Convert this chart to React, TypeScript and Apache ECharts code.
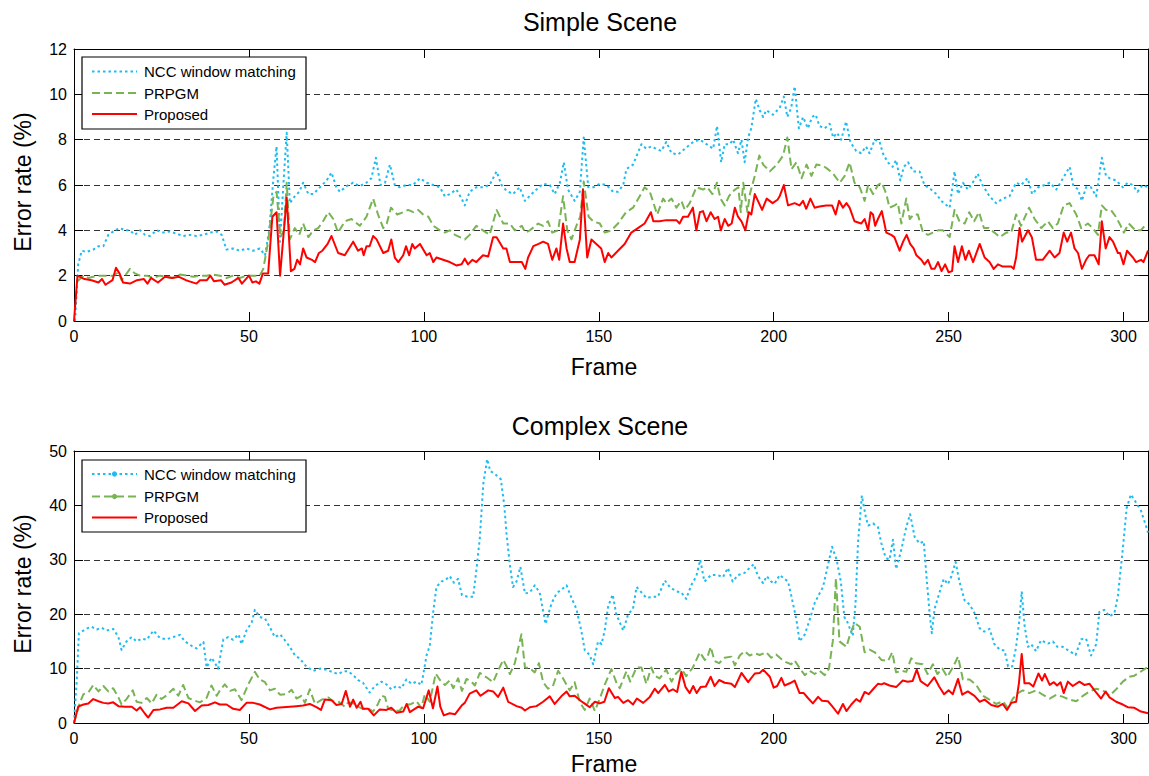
import React, { useEffect, useRef } from 'react';
import * as echarts from 'echarts';

const FONT = "'Liberation Sans', Arial, Helvetica, sans-serif";

const seriesNames = ['NCC window matching', 'PRPGM', 'Proposed'];
const simpleTitle = 'Simple Scene';
const complexTitle = 'Complex Scene';
const xTicksInterval = 50;
const simpleYMax = 12;
const simpleYInterval = 2;
const complexYMax = 50;
const complexYInterval = 10;
const frameMax = 307;

// Simple scene: [frame, error rate %]
const simpleNcc: number[][] = [[0.3,0],[1.2,2.5],[2.2,3.1],[3.6,3.05],[5.5,3.15],[7,3.3],[8.4,3.3],[9.8,3.8],[11.7,4.0],[13.1,4.1],[14.6,4.0],[16,4.0],[17.4,3.8],[18.9,4.0],[20.3,3.8],[21.7,3.75],[23.6,4.0],[25.5,3.9],[27.4,3.95],[29.3,3.85],[31.2,3.75],[33.1,3.8],[35,3.75],[37,3.8],[38.9,3.9],[40.8,3.95],[42.2,3.8],[43.6,3.15],[45.5,3.2],[47.4,3.1],[49.3,3.2],[51.2,3.1],[53.1,3.2],[54.6,2.9],[55.8,4.0],[57,6.3],[57.9,7.7],[58.9,3.5],[59.8,5.9],[60.8,8.3],[61.7,5.2],[63.1,5.5],[64.4,5.7],[65.5,6.1],[67,5.6],[68.4,5.6],[70.3,5.9],[72.2,6.2],[73.6,6.55],[75,5.9],[76,5.7],[77.9,5.95],[79.8,6.1],[81.7,5.95],[83.6,6.1],[85,6.3],[86.3,7.2],[87.6,6.0],[88.9,6.1],[90.3,6.9],[91.7,6.0],[93.1,5.9],[95,6.0],[96.9,6.0],[98.9,6.3],[100.8,6.1],[102.7,6.0],[104.6,5.9],[106,5.5],[107.4,5.6],[109.3,5.8],[110.8,5.4],[111.7,5.1],[113.1,5.7],[115,5.9],[116.9,5.9],[118.8,6.0],[120.8,6.6],[122.2,6.0],[123.6,5.75],[125.5,5.6],[127.4,5.9],[128.9,5.3],[130.8,5.6],[132.2,5.8],[134.1,6.05],[136,6.0],[137.4,5.6],[138.9,6.1],[140,7.0],[141.2,5.8],[143.1,5.3],[144.6,5.7],[145.7,8.1],[147,5.9],[148.4,5.9],[150.3,6.05],[152.2,6.0],[154.1,5.7],[155.5,5.7],[157,6.0],[157.9,6.7],[159.8,6.9],[162.2,7.8],[163.6,7.6],[165,7.7],[166.4,7.6],[167.9,7.5],[169.3,7.9],[170.8,7.4],[172.7,7.35],[174.6,7.6],[177,7.9],[178.9,8.0],[180.8,7.8],[182.7,7.6],[183.8,8.6],[185,7.0],[186,7.8],[187.4,7.8],[188.4,8.0],[189.8,7.4],[190.8,8.0],[191.7,7.0],[192.7,8.1],[193.6,8.5],[194.9,9.8],[196,9.3],[197,9.0],[197.9,9.3],[199.8,9.1],[201.7,9.4],[202.9,9.9],[203.9,9.0],[205,9.4],[206,10.35],[207.2,8.5],[208.4,9.0],[209.8,8.5],[211,9.0],[212,9.1],[213.1,8.6],[214.6,8.5],[216,8.7],[217,8.1],[218.1,8.3],[219.3,8.0],[220.7,8.8],[221.9,7.9],[223.6,7.5],[225,7.4],[226.4,7.7],[227.4,7.4],[228.9,8.0],[230.3,7.9],[231.2,7.4],[232.6,7.0],[234,6.8],[235,7.1],[236.2,6.2],[237.2,6.8],[238.4,7.0],[239.9,6.6],[241.7,6.6],[243.1,6.0],[245,5.8],[246.5,5.6],[247.9,5.3],[250.3,5.0],[251.7,6.6],[252.7,5.6],[254.1,6.1],[255.5,5.8],[256.9,6.1],[258.3,6.5],[259.7,6.0],[261.7,5.5],[263.6,5.2],[265.5,5.4],[267.4,5.5],[269.3,6.1],[270.7,6.0],[272.6,6.3],[273.9,5.6],[275.6,5.9],[277.5,6.0],[278.9,6.1],[280.8,5.8],[282.7,6.3],[284.6,6.8],[285.6,6.0],[287,5.8],[288.1,5.3],[289.3,5.9],[290.7,5.9],[292.2,5.5],[293.8,7.2],[295,6.4],[296,6.3],[297.9,6.2],[299.8,5.9],[301.2,6.1],[302.6,6.0],[304,5.7],[305.4,6.0],[307,5.9]];

const simplePrpgm: number[][] = [[1,1.75],[2.7,2.0],[4.1,1.9],[5.5,1.95],[7.4,2.0],[9.3,2.0],[11.2,2.0],[12.7,2.15],[13.6,1.8],[14.6,2.0],[16,2.3],[17.4,2.1],[18.9,2.0],[20.8,2.0],[22.7,1.9],[24.6,2.0],[26.5,1.95],[28.4,1.9],[30.3,2.05],[32.2,2.0],[34.1,1.95],[36,2.0],[37.9,2.0],[39.8,2.05],[41.7,2.0],[43.6,1.9],[45.5,2.0],[47.4,1.9],[49.3,2.0],[51.2,2.0],[53.1,2.0],[54.1,2.3],[55.5,3.5],[57,5.5],[57.9,5.7],[59,3.7],[60,4.0],[60.8,6.1],[61.7,3.6],[63.1,4.1],[64.4,3.8],[65.5,4.3],[67,3.7],[68.4,4.0],[69.8,4.1],[71.2,4.4],[72.7,4.8],[74.1,4.5],[75.5,3.9],[77.4,4.4],[79.3,4.5],[81.7,4.2],[83.6,4.6],[85.5,5.4],[86.9,4.7],[88.4,4.1],[89.4,4.3],[90.6,5.0],[92.4,4.7],[94.1,4.8],[95.5,4.9],[97,4.8],[98.4,4.9],[99.8,4.7],[101.3,4.6],[102.7,4.2],[104.6,4.0],[106,3.9],[107.4,4.0],[108.9,3.8],[110.3,3.7],[111.7,3.6],[113.1,3.8],[115,4.2],[116.9,4.0],[118.8,3.8],[120.8,4.9],[122.7,4.3],[124.6,4.3],[126,4.0],[128,4.2],[129,3.9],[130.3,4.0],[132.7,4.3],[134.1,4.2],[135.5,4.4],[136.7,3.9],[138.4,4.0],[139.8,5.5],[141,4.0],[142.2,3.6],[143.6,4.2],[144.7,4.6],[145.7,6.15],[147.1,4.6],[148.4,4.4],[150.3,4.3],[151.7,3.9],[153.6,4.0],[155.5,4.3],[157.8,4.8],[159.8,5.0],[161.7,5.5],[163.1,5.9],[164.6,5.7],[166.7,4.7],[168.4,5.4],[169.3,5.2],[170.8,5.4],[172.2,5.0],[173.6,5.3],[174.6,4.9],[176,5.2],[177.9,5.9],[179.8,5.8],[181,5.9],[182.5,5.6],[183.8,6.1],[184.8,5.4],[186,5.1],[187.2,5.5],[188.1,5.7],[189.9,5.9],[190.6,4.8],[191.3,6.1],[192.5,4.8],[193.2,5.6],[194.6,6.4],[195.9,7.3],[197,6.9],[198.9,6.6],[200.9,6.9],[202.7,7.3],[203.9,8.1],[205.1,6.7],[206.5,7.0],[208,6.3],[209.4,6.9],[210.8,6.4],[212.2,6.9],[214.1,6.85],[215.5,6.7],[217,6.5],[218.9,6.1],[220.3,6.4],[221.7,7.0],[223.1,6.1],[224.6,5.9],[226,5.3],[227,6.0],[228.4,5.6],[229.8,6.0],[230.9,6.1],[232.2,5.6],[233.1,5.0],[234.6,5.1],[235.5,5.2],[236.5,4.3],[237.9,5.4],[238.9,4.5],[240,4.7],[241.2,4.7],[242.7,3.9],[244.1,3.8],[245.5,3.9],[247,4.0],[248.4,4.0],[250.3,3.7],[251.7,4.9],[253.1,4.4],[254.6,4.3],[255.9,4.8],[257.3,4.4],[258.7,4.8],[260.1,4.1],[261.5,4.1],[263.1,3.9],[264.6,3.7],[266.5,3.9],[267.9,3.9],[269.3,4.7],[270.7,4.2],[273,5.0],[274.6,4.5],[276.5,4.1],[278.4,4.4],[279.8,4.1],[281.2,4.3],[282.9,5.1],[284.6,5.2],[286.5,4.7],[287.9,4.1],[289.8,4.3],[291.2,4.1],[292.7,3.8],[293.8,5.1],[295,4.9],[296.4,4.9],[297.8,4.6],[299.2,4.2],[300.1,3.9],[301.5,4.3],[303.4,4.0],[304.9,4.0],[306.7,4.3]];

const simpleProposed: number[][] = [[0,0],[1,2.0],[3,1.85],[5,1.8],[7,1.7],[8,1.85],[9,1.6],[11,1.8],[12,2.35],[13,2.1],[14,1.7],[16,1.65],[18,1.8],[20,1.85],[21,1.65],[22,1.9],[24,1.7],[26,1.95],[28,1.9],[30,1.95],[32,1.8],[33,1.75],[35,1.65],[36,1.8],[38,1.8],[39,2.0],[40,1.75],[42,1.8],[43,1.6],[45,1.7],[47,1.9],[48,1.65],[50,2.0],[51,1.7],[52,1.75],[53,1.65],[54,2.1],[55.5,2.1],[56.7,4.6],[57.9,4.8],[58.9,2.0],[60.8,5.45],[62,2.2],[63,2.3],[63.8,2.7],[64.6,2.5],[65.5,3.2],[66.5,2.8],[68,2.7],[68.9,2.6],[70,3.0],[71,3.1],[72.5,3.4],[73.6,3.75],[75.5,3.0],[77.4,2.9],[79.8,3.5],[81.2,3.1],[82.3,3.2],[82.8,2.9],[83.6,3.3],[84.5,3.3],[85.5,3.75],[86.5,3.6],[88.4,3.0],[89.8,3.1],[90.7,3.6],[91.7,2.8],[92.7,2.6],[94.1,2.9],[94.9,3.3],[95.8,2.9],[96.7,3.4],[97.4,3.2],[98.9,3.4],[100.8,2.9],[101.7,3.0],[102.7,2.6],[103.6,2.8],[105.5,2.7],[107.4,2.6],[109.3,2.45],[110.8,2.5],[111.7,2.75],[112.6,2.5],[113.9,2.7],[115,2.6],[116.9,2.9],[118.4,2.85],[119.8,3.7],[120.8,3.7],[122.7,3.2],[123.6,3.2],[124.6,2.6],[126.5,2.6],[128,2.6],[129,2.3],[129.8,2.8],[131.3,3.3],[132.8,3.4],[134.1,3.5],[135.5,3.4],[136.7,2.7],[137.9,3.2],[138.7,2.7],[139.8,4.3],[140.8,3.2],[141.7,2.6],[143.1,2.6],[144.6,3.6],[145.5,5.8],[146.7,2.8],[147.9,3.6],[149.3,3.4],[150.7,3.2],[151.7,2.6],[152.7,3.0],[153.6,2.8],[155.5,3.1],[157.4,3.4],[159.3,3.9],[161.2,4.1],[163.1,4.3],[164.9,4.8],[165.6,4.4],[167.4,4.4],[169.3,4.45],[172.2,4.45],[173.1,4.3],[174.1,4.6],[175.5,4.6],[176.9,5.0],[177.9,4.0],[178.9,4.8],[179.8,4.85],[180.8,4.4],[182,4.8],[183.1,4.5],[184.1,4.6],[184.9,4.0],[186,4.5],[187,4.2],[188,4.3],[188.9,5.0],[189.8,4.6],[190.8,4.4],[191.9,4.0],[192.9,4.8],[193.6,4.7],[194.6,5.6],[195.5,5.3],[196.7,4.9],[198,5.4],[199.7,5.2],[201.1,5.35],[201.7,5.5],[202.9,6.0],[204.1,5.1],[206,5.2],[207.4,5.1],[208.4,5.3],[209.3,4.95],[210.5,5.4],[211.7,5.0],[213.1,5.05],[215,5.1],[216.7,5.1],[217.7,4.7],[218.7,5.3],[219.8,5.0],[220.8,5.2],[221.7,5.0],[223.1,4.4],[225,4.3],[226,4.5],[227,4.0],[227.7,4.8],[228.4,4.7],[229,4.2],[229.8,4.5],[230.9,4.85],[232.2,3.9],[233.6,3.8],[234.5,3.7],[236,3.1],[237,3.5],[238,3.8],[239,3.4],[240,3.2],[240.8,2.9],[242.2,2.7],[243.1,2.5],[244.1,2.7],[245.1,2.3],[246,2.3],[247,2.6],[248,2.2],[249,2.5],[250,2.15],[251,2.2],[251.7,3.3],[252.7,2.6],[253.8,3.3],[254.8,2.7],[255.8,3.1],[257,2.6],[258.9,3.4],[260.3,2.8],[261.7,2.6],[262.9,2.3],[264.1,2.5],[265.5,2.4],[267.9,2.4],[268.6,2.3],[269.3,2.8],[270.3,4.1],[271,3.5],[272.7,4.0],[273.8,3.7],[275,2.7],[276.9,2.7],[278.9,3.1],[280.3,2.8],[281.7,3.0],[282.9,3.9],[283.9,3.5],[285,3.9],[286,3.2],[287,3.0],[288.1,2.3],[289.3,2.7],[290.2,2.9],[291.7,2.9],[292.9,2.5],[293.8,4.4],[294.9,3.2],[296,3.7],[297,3.5],[298.4,3.0],[299,3.0],[300,2.5],[301,3.1],[302.7,2.8],[303.6,2.6],[305,2.7],[305.7,2.6],[307,3.1]];

// Complex scene: [frame, error rate %]
const complexNcc: number[][] = [[0,0],[0.8,8],[1.4,16.5],[2.7,17.0],[4.1,17.5],[5,17.7],[6.5,17.2],[7.9,17.5],[9.3,17.0],[11.2,17.3],[12.7,15.8],[13.6,13.4],[15,15.0],[16.5,15.8],[17.9,15.0],[19.3,15.5],[20.8,15.3],[22.7,17.0],[24.6,15.6],[26.5,15.4],[28.4,15.8],[30.3,16.2],[31.7,15.0],[33.6,14.2],[35,13.7],[37,14.9],[37.9,10.2],[39.3,12.0],[40.3,11.0],[41.2,10.0],[42.7,15.4],[44.1,15.8],[45.5,15.3],[47,16.3],[47.9,14.5],[49.3,17.0],[50.8,18.5],[51.7,20.8],[53.1,19.5],[54.6,19.2],[56,17.6],[57.4,15.8],[58.9,16.3],[60.3,15.2],[61.7,14.0],[63.1,12.5],[64.6,11.8],[66.5,10.3],[68.4,9.6],[70.3,10.0],[72.2,9.8],[74.1,9.3],[75.5,9.0],[77,9.5],[78.4,9.5],[79.8,8.8],[81.2,7.9],[82.6,7.4],[84.5,5.6],[86,6.8],[87.9,7.6],[89.3,7.1],[90.7,6.2],[92.2,6.8],[93.6,6.4],[95,8.0],[96.5,7.2],[97.9,7.6],[99.3,7.0],[100.8,12.5],[101.7,14.2],[102.7,20.5],[103.6,25.0],[105,26.0],[106,26.2],[107.4,27.0],[108.6,25.8],[109.8,26.5],[110.9,23.5],[112.6,23.2],[114.1,23.2],[115,28.0],[116,34.0],[117,44.0],[118.1,48.5],[119,46.3],[120.3,45.8],[122,44.8],[123,40.0],[123.6,35.0],[124.6,29.0],[125.5,25.0],[126.5,26.0],[127.6,28.7],[128.9,23.8],[130.3,24.0],[131.7,25.3],[133.1,24.0],[134.8,18.2],[136.5,22.0],[138,23.9],[139.3,24.5],[140.8,25.3],[142.2,23.0],[143.6,21.0],[145,17.0],[146,13.4],[147.4,12.5],[148.4,10.8],[149.8,15.0],[150.8,14.5],[151.7,17.0],[152.7,21.5],[154,23.6],[155,20.0],[157,17.0],[158.4,20.0],[159.8,21.0],[160.8,25.0],[162.2,24.0],[163.6,23.0],[165.5,23.2],[166.9,23.2],[168.9,26.2],[170.3,25.0],[172.1,24.2],[173.6,24.0],[175,22.8],[176.4,25.3],[177.9,27.0],[179,30.0],[180.2,26.0],[182.1,27.2],[184,27.2],[185.5,26.8],[186.9,28.5],[188.3,26.0],[189.8,27.2],[191.7,27.6],[193.1,28.5],[194.3,29.2],[195.5,27.0],[197,25.7],[198,27.0],[199.3,26.0],[200.3,25.6],[201.7,27.2],[203.1,26.5],[204.1,26.0],[205,23.5],[206.5,19.0],[207.4,15.0],[208.9,16.3],[210.3,19.0],[211.7,22.0],[213.1,23.8],[214.1,25.0],[215.5,29.0],[216.7,32.4],[218,30.0],[219.2,26.0],[220.2,19.5],[221.1,18.5],[222.6,16.0],[223.4,22.0],[224.1,33.0],[225.2,41.8],[226.3,38.0],[227,36.3],[228.4,36.7],[229.8,36.0],[230.8,33.0],[232,30.4],[233.1,30.0],[234.1,33.7],[235,28.3],[236.4,31.6],[237.9,36.0],[239,38.4],[240.3,34.2],[241.7,33.0],[242.9,33.4],[243.8,26.0],[244.6,20.0],[245.2,16.5],[246,21.0],[247.4,24.0],[248.6,26.5],[249.8,25.5],[250.7,26.8],[252,29.6],[253.1,26.0],[254.6,22.5],[256,21.8],[257.4,20.2],[258.9,17.4],[260.2,16.8],[261.7,17.3],[263.1,14.5],[264.6,13.5],[266,13.3],[267,10.4],[268.2,10.4],[269.3,14.0],[270.3,19.3],[270.9,24.2],[271.7,18.0],[272.7,14.0],[273.6,14.5],[275,13.2],[276.4,15.2],[278.4,14.6],[279.8,15.0],[281.1,14.0],[282.6,14.0],[284.6,13.2],[286.3,12.5],[287.9,15.4],[289.3,15.5],[290.7,12.4],[292.2,14.5],[293.1,20.4],[294.5,20.8],[296,19.6],[297.4,20.2],[298.4,23.4],[299.8,32.0],[300.9,39.5],[302.1,42.0],[303.6,40.5],[305,39.0],[306.4,36.3],[307,35.0]];

const complexPrpgm: number[][] = [[0,0],[1.7,3.8],[2.7,5.3],[4.1,5.6],[5.5,7.0],[7,5.8],[8.4,6.8],[9.8,5.8],[11.2,6.4],[12.7,4.7],[13.6,3.4],[15,4.4],[16.8,6.0],[17.9,3.9],[19.3,3.7],[20.8,4.6],[22.2,3.6],[23.6,5.2],[25,4.4],[26.5,5.1],[28.4,6.3],[29.8,5.0],[31.2,7.0],[32.7,4.6],[34.1,4.2],[36,3.8],[37.9,4.6],[39.3,6.9],[40.8,5.0],[41.7,6.0],[43.1,7.1],[44.6,5.9],[46,6.2],[47.9,4.2],[49.8,7.1],[51.7,9.4],[53.1,8.0],[54.6,7.5],[56,6.0],[57.4,6.3],[58.9,5.2],[60.8,5.3],[62.2,6.1],[63.6,4.5],[65,5.0],[66,3.7],[67.4,6.2],[68.9,3.5],[70.8,4.3],[72.7,4.7],[74.1,4.0],[75.5,4.0],[77.4,3.0],[78.4,3.8],[79.8,3.6],[81.2,3.0],[82.6,2.6],[84.1,2.7],[85.5,2.1],[86.9,3.5],[87.9,5.0],[88.9,4.8],[89.8,2.6],[91.7,2.2],[93.1,2.3],[94,3.0],[95,3.3],[96.4,3.5],[97.9,4.0],[99.3,2.8],[100.3,5.3],[101.7,3.9],[103.4,9.1],[104.6,7.9],[106,7.0],[107.4,7.8],[108.4,6.4],[109.8,8.2],[110.9,5.9],[112.2,8.1],[113.6,7.6],[114.6,6.9],[116,9.2],[117.9,8.4],[119.8,7.5],[121.2,9.6],[122.7,11.6],[123.6,10.5],[124.6,9.0],[126,11.0],[127.9,16.3],[128.9,10.2],[130.3,10.1],[131.7,9.3],[132.9,11.0],[134.1,7.5],[135.5,6.3],[136.9,6.8],[138.4,9.6],[139.8,8.2],[141.7,6.0],[143.1,7.5],[144.6,3.8],[146,2.4],[147.4,4.5],[148.9,2.2],[150.3,4.5],[151.7,7.0],[153.6,9.9],[155,7.5],[156,6.4],[157.9,9.5],[159,7.6],[160.8,10.2],[162.2,10.2],[163.6,7.2],[165,10.2],[166,8.7],[167.4,8.2],[169.3,9.8],[170.8,7.6],[172.1,9.1],[173.6,10.0],[175,8.6],[176.9,10.2],[178.9,13.0],[180.3,11.6],[181,12.0],[182,14.0],[183.1,11.4],[184.4,11.0],[186,12.0],[187.9,12.2],[188.9,10.6],[190.3,12.4],[191.7,13.2],[193.1,12.4],[194.6,12.8],[196,12.5],[197.9,13.0],[199.3,12.0],[200.7,12.6],[202.1,11.8],[203.5,11.2],[205,10.8],[206,11.5],[207.4,10.1],[208.9,8.8],[210.3,9.6],[211.7,9.0],[213.1,9.6],[214.6,8.8],[215.8,10.0],[216.9,15.0],[217.8,26.6],[218.8,15.0],[219.8,14.5],[220.8,14.0],[221.7,16.0],[223.1,18.4],[224.6,17.7],[226,13.0],[227.4,13.5],[228.9,13.0],[230.8,11.6],[232.7,11.4],[233.9,13.0],[235,9.3],[236.5,9.6],[237.9,9.4],[239.3,11.9],[240.7,11.0],[242.6,10.8],[244,9.0],[245.5,10.8],[246.8,9.0],[248.2,10.0],[249.6,8.5],[251.2,10.2],[252.7,12.2],[254.1,8.0],[256,8.0],[257.9,7.0],[259.8,5.0],[261.7,4.3],[263.6,3.5],[265.5,4.0],[266.9,2.8],[268.4,4.5],[269.8,5.5],[271.2,6.0],[273.1,5.5],[275,6.0],[276.9,5.2],[278.9,4.5],[280.8,5.2],[282.7,4.8],[284.6,4.3],[286.5,4.0],[288.4,5.0],[290.3,5.8],[292.2,6.3],[294.1,6.0],[296,5.0],[297.9,6.2],[299.8,7.6],[301.7,8.5],[303.1,8.7],[304.6,9.3],[306,9.9],[307,10.3]];

const complexProposed: number[][] = [[0,0],[1.2,3.0],[2.7,3.4],[4.1,3.6],[5.5,4.4],[7,4.0],[8.4,3.7],[9.8,3.6],[11.2,3.8],[12.7,3.1],[14.6,3.0],[16.5,3.0],[17.9,2.3],[18.9,2.9],[20.3,1.7],[21.2,1.0],[22.7,2.4],[24.6,2.5],[26.5,2.8],[28.4,2.8],[30.8,4.0],[32.7,3.6],[34.6,2.2],[36.5,3.2],[38.4,3.3],[40.3,3.8],[41.7,3.4],[43.6,3.4],[45.5,2.6],[47.4,2.4],[49.3,3.7],[51.2,3.7],[53.1,3.4],[56,2.5],[57.9,2.8],[59.8,2.9],[61.7,3.0],[63.6,3.1],[65.5,3.2],[67.4,3.5],[69.3,2.9],[70.6,2.4],[71.7,4.3],[73.6,4.2],[75,3.3],[76.5,3.5],[77.7,5.9],[78.9,3.0],[79.8,4.3],[80.8,2.8],[81.9,3.9],[82.6,2.6],[84.1,2.6],[85.7,1.4],[87.4,2.5],[89.3,2.4],[90.7,2.8],[92.2,1.9],[94.1,2.1],[95.1,3.5],[96,2.0],[98.4,3.0],[99.8,2.7],[101.4,6.0],[102.6,2.7],[103.9,6.7],[104.7,3.0],[105.7,1.4],[107.4,1.8],[108.9,1.6],[110.8,3.2],[111.7,3.7],[113.1,5.4],[115,6.0],[116.2,5.0],[118.4,6.0],[119.8,5.8],[121.2,4.8],[122.7,6.5],[124.1,3.9],[126.5,3.1],[128,2.8],[128.9,2.3],[130.3,2.9],[132.2,3.1],[134.1,3.9],[136,4.9],[137.4,3.5],[139.3,4.9],[140.8,5.8],[141.7,4.9],[143.1,5.0],[145,4.0],[145.9,3.6],[147.4,2.9],[148.9,3.9],[150.3,3.6],[151.6,3.9],[152.9,6.4],[154.6,4.6],[155.5,4.8],[157,3.7],[158.4,4.2],[159.8,3.4],[160.9,4.5],[162.7,3.7],[164.6,4.8],[166,6.3],[167,5.5],[168.9,7.0],[170,5.8],[171.2,6.2],[172.4,5.7],[173.6,9.4],[174.8,6.6],[176,5.5],[177,6.8],[178,5.5],[179.1,6.6],[180.6,6.7],[182,8.5],[183.1,6.8],[184.4,7.9],[186,7.4],[187.9,7.2],[188.9,6.6],[190.8,9.2],[192.7,7.5],[194.6,9.1],[196,9.2],[197,9.8],[198.9,8.5],[200,6.5],[201,6.8],[202.2,8.3],[203.1,6.9],[204.6,7.3],[206,7.8],[207.4,5.5],[208.6,5.5],[209.8,4.6],[211.2,3.6],[212.7,4.8],[213.8,4.1],[215.5,4.0],[216.7,3.1],[218.4,1.7],[219.8,3.5],[220.8,2.2],[222.2,3.4],[223.6,4.4],[224.7,3.9],[226,5.7],[227.2,5.3],[228.4,6.2],[229.8,7.2],[230.8,7.1],[231.6,7.3],[233.1,6.9],[235,6.6],[236.9,7.8],[238.3,7.6],[239.7,7.7],[240.9,9.8],[242,7.7],[244,6.8],[245.9,8.4],[247.3,6.7],[248.7,5.3],[250,6.0],[251.2,5.3],[252.7,8.1],[253.9,5.2],[255.5,5.8],[257.4,5.0],[258.9,3.9],[260.3,4.3],[262.2,3.3],[264.1,3.0],[265.5,3.5],[266.7,2.4],[267.9,3.7],[269.3,3.9],[270.1,7.3],[270.9,12.7],[271.7,7.3],[273.1,7.3],[274.2,6.7],[275.7,9.1],[276.7,7.8],[277.5,9.0],[278.9,7.0],[280.1,7.5],[281,6.9],[282,7.5],[282.9,5.5],[284.1,7.6],[285.5,6.8],[287.4,7.6],[288.8,7.0],[290.3,7.2],[291.7,6.0],[293.6,4.5],[294.9,5.8],[296,4.7],[297.9,3.9],[299.8,3.4],[301.2,2.9],[303.1,2.8],[305,2.1],[307,1.8]];

const COLORS = ['#1fbcf0', '#78b354', '#ff0000'];
const DASHES: any[] = [[2.5, 3], [8, 4], 'solid'];

const GRID_L = 74;
const GRID_W = 1074;
const panels = [
  { top: 49, height: 272, yMax: simpleYMax, yInt: simpleYInterval, data: [simpleNcc, simplePrpgm, simpleProposed], title: simpleTitle, titleY: 22, nameX: 367, legendTop: 57, legendRows: [71.5, 93, 114], dots: false },
  { top: 451, height: 272, yMax: complexYMax, yInt: complexYInterval, data: [complexNcc, complexPrpgm, complexProposed], title: complexTitle, titleY: 426, nameX: 764, legendTop: 460, legendRows: [474, 496.5, 517.5], dots: true },
];

function buildOption() {
  const grid: any[] = [];
  const xAxis: any[] = [];
  const yAxis: any[] = [];
  const series: any[] = [];
  const graphic: any[] = [];
  const axisLine = { onZero: false, lineStyle: { color: '#000', width: 1 } };
  const axisTick = { inside: true, length: 9, lineStyle: { color: '#000', width: 1 } };
  const label = { fontSize: 16, color: '#000', fontFamily: FONT, margin: 7, showMaxLabel: false };

  panels.forEach((p, i) => {
    grid.push({ left: GRID_L, top: p.top, width: GRID_W, height: p.height });
    const xBase = { type: 'value', gridIndex: i, min: 0, max: frameMax, interval: xTicksInterval, axisLine, axisTick, splitLine: { show: false } };
    xAxis.push({ ...xBase, position: 'bottom', axisLabel: label });
    xAxis.push({ ...xBase, position: 'top', axisLabel: { show: false } });
    const yBase = { type: 'value', gridIndex: i, min: 0, max: p.yMax, interval: p.yInt, axisLine, axisTick };
    yAxis.push({ ...yBase, position: 'left', axisLabel: { ...label, showMaxLabel: true },
      splitLine: { show: true, lineStyle: { color: '#333', width: 1, type: [6, 4] } } });
    yAxis.push({ ...yBase, position: 'right', axisLabel: { show: false }, splitLine: { show: false } });

    p.data.forEach((d, k) => {
      series.push({
        type: 'line', name: seriesNames[k], xAxisIndex: i * 2, yAxisIndex: i * 2, data: d,
        symbol: 'none', z: 2 + k,
        lineStyle: { color: COLORS[k], width: 2, type: DASHES[k], cap: 'butt', join: 'round' },
      });
    });

    // Titles and axis names
    graphic.push({ type: 'text', x: 600, y: p.titleY, z: 100,
      style: { text: p.title, font: `25px ${FONT}`, fill: '#000', align: 'center', verticalAlign: 'middle' } });
    graphic.push({ type: 'text', x: 604, y: p.nameX, z: 100,
      style: { text: 'Frame', font: `23px ${FONT}`, fill: '#000', align: 'center', verticalAlign: 'middle' } });
    graphic.push({ type: 'text', x: 23, y: p.top + p.height / 2 - 3, rotation: Math.PI / 2, z: 100,
      style: { text: 'Error rate (%)', font: `23px ${FONT}`, fill: '#000', align: 'center', verticalAlign: 'middle' } });

    // Legend box
    graphic.push({ type: 'rect', z: 100, shape: { x: 82, y: p.legendTop, width: 224, height: 72 },
      style: { fill: '#fff', stroke: '#000', lineWidth: 1.2 } });
    seriesNames.forEach((n, k) => {
      const y = p.legendRows[k];
      graphic.push({ type: 'line', z: 101, shape: { x1: 92, y1: y, x2: 137, y2: y },
        style: { stroke: COLORS[k], lineWidth: 2, lineDash: k === 2 ? null : DASHES[k] } });
      if (p.dots && k < 2) {
        graphic.push({ type: 'circle', z: 102, shape: { cx: 114.5, cy: y, r: 2.6 }, style: { fill: COLORS[k] } });
      }
      graphic.push({ type: 'text', z: 102, x: 144, y,
        style: { text: n, font: `15px ${FONT}`, fill: '#000', align: 'left', verticalAlign: 'middle' } });
    });
  });

  return { animation: false, backgroundColor: '#fff', grid, xAxis, yAxis, series, graphic };
}

export default function App() {
  const ref = useRef<HTMLDivElement>(null);
  useEffect(() => {
    if (!ref.current) return;
    const chart = echarts.init(ref.current, undefined, { renderer: 'svg' });
    chart.setOption(buildOption() as any);
    return () => chart.dispose();
  }, []);
  return (
    <div ref={ref} style={{ position: 'fixed', left: 0, top: 0, width: 1149, height: 776, background: '#fff' }} />
  );
}
